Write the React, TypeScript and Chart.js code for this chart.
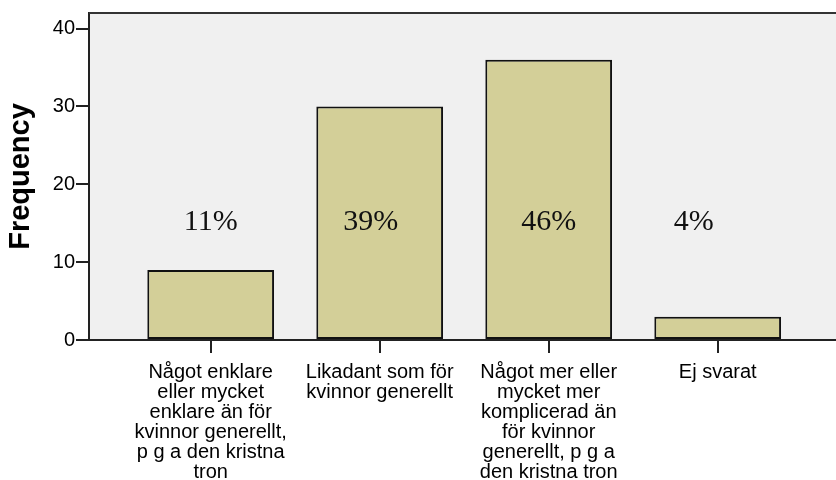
import React, { useEffect, useRef } from "react";
import { Chart, registerables } from "chart.js";

Chart.register(...registerables);

const categories: string[][] = [
  ["Något enklare", "eller mycket", "enklare än för", "kvinnor generellt,", "p g a den kristna", "tron"],
  ["Likadant som för", "kvinnor generellt"],
  ["Något mer eller", "mycket mer", "komplicerad än", "för kvinnor", "generellt, p g a", "den kristna tron"],
  ["Ej svarat"],
];
const frequencies: number[] = [9, 30, 36, 3];
const percentLabels: string[] = ["11%", "39%", "46%", "4%"];
const yTicks: number[] = [0, 10, 20, 30, 40];

const pctPlugin = {
  id: "pctLabels",
  beforeDraw(chart: any) {
    const { ctx, chartArea } = chart;
    ctx.save();
    ctx.fillStyle = "#f0f0f0";
    ctx.fillRect(chartArea.left, chartArea.top, chartArea.right - chartArea.left, chartArea.bottom - chartArea.top);
    ctx.restore();
  },
  afterDraw(chart: any, _args: any, opts: any) {
    const { ctx, chartArea, scales } = chart;
    ctx.save();
    ctx.strokeStyle = "#333";
    ctx.lineWidth = 2;
    ctx.beginPath();
    ctx.moveTo(chartArea.left, chartArea.top);
    ctx.lineTo(chartArea.right, chartArea.top);
    ctx.stroke();
    ctx.fillStyle = "#111";
    ctx.font = "30px 'Liberation Serif'";
    ctx.textAlign = "center";
    ctx.textBaseline = "middle";
    percentLabels.forEach((t, i) => {
      const x = scales.x.getPixelForValue(i + (opts.offsets?.[i] ?? 0));
      const y = scales.y.getPixelForValue(opts.level);
      ctx.fillText(t, x, y);
    });
    ctx.restore();
  },
};

export default function App() {
  const ref = useRef<HTMLCanvasElement | null>(null);
  useEffect(() => {
    if (!ref.current) return;
    const chart = new Chart(ref.current, {
      type: "bar",
      data: {
        datasets: [
          {
            data: frequencies.map((v, i) => ({ x: i, y: v })),
            backgroundColor: "#d3cf98",
            borderColor: "#111",
            borderWidth: 2,
            borderSkipped: false,
            categoryPercentage: 1,
            barPercentage: 0.75,
          },
        ],
      },
      plugins: [pctPlugin],
      options: {
        responsive: false,
        animation: false,
        layout: { padding: { top: 13, right: 0, left: 0, bottom: 0 } },
        plugins: {
          legend: { display: false },
          tooltip: { enabled: false },
          pctLabels: { offsets: [0, -0.053, 0, -0.142], level: 15.2 },
        } as any,
        scales: {
          x: {
            type: "linear",
            min: -0.72,
            max: 3.7,
            offset: false,
            afterBuildTicks: (scale: any) => {
              scale.ticks = categories.map((_, i) => ({ value: i }));
            },
            afterFit: (scale: any) => {
              scale.height = 140;
            },
            ticks: {
              autoSkip: false,
              maxRotation: 0,
              minRotation: 0,
              padding: 9,
              color: "#000",
              font: { family: "'Liberation Sans'", size: 20, lineHeight: 1.0 },
              callback: (v: any) => categories[v as number] ?? "",
            },
            grid: { offset: false, drawOnChartArea: false, tickLength: 13, color: "#222", lineWidth: 2 },
            border: { color: "#222", width: 2 },
          },
          y: {
            min: 0,
            max: 42,
            afterBuildTicks: (scale: any) => {
              scale.ticks = yTicks.map((v) => ({ value: v }));
            },
            afterFit: (scale: any) => {
              scale.width = 89;
            },
            ticks: {
              padding: 1,
              color: "#000",
              font: { family: "'Liberation Sans'", size: 20 },
            },
            grid: { drawOnChartArea: false, tickLength: 13, color: "#222", lineWidth: 2 },
            border: { color: "#222", width: 2 },
            title: {
              display: true,
              text: "Frequency",
              color: "#000",
              font: { family: "'Liberation Sans'", size: 29, weight: "bold" },
              padding: { top: 4, bottom: 0 },
            },
          },
        },
      },
    });
    return () => chart.destroy();
  }, []);
  return (
    <div style={{ position: "fixed", left: 0, top: 0, width: 836, height: 480, background: "#fff" }}>
      <canvas ref={ref} width={836} height={480} />
    </div>
  );
}
